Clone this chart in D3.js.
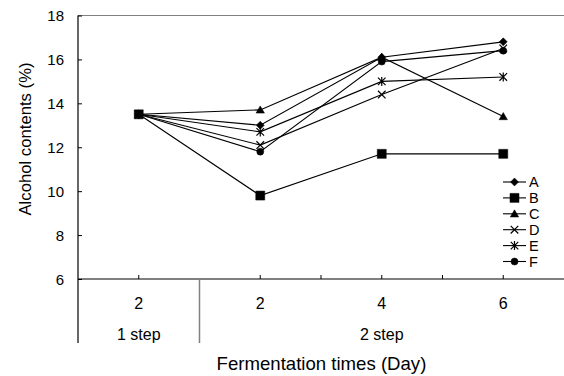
<!DOCTYPE html>
<html>
<head>
<meta charset="utf-8">
<script src="https://cdn.jsdelivr.net/npm/d3@7"></script>
<style>
  html, body { margin: 0; padding: 0; background: #fff; }
  svg { display: block; font-family: Arial, 'Liberation Sans', sans-serif; }
</style>
</head>
<body>
<div id="chart"></div>
<script>
// ─── Data ─────────────────────────────────────────────────────────────────────
const steps = ['1 step', '2 step']
const stepSpan = [1, 3]                 // number of day slots under each step
const days = ['2', '2', '4', '6']
const seriesNames = ['A', 'B', 'C', 'D', 'E', 'F']
const valuesA = [13.5, 13.0, 16.1, 16.8]
const valuesB = [13.5, 9.8, 11.7, 11.7]
const valuesC = [13.5, 13.7, 16.1, 13.4]
const valuesD = [13.5, 12.1, 14.4, 16.5]
const valuesE = [13.5, 12.7, 15.0, 15.2]
const valuesF = [13.5, 11.8, 15.9, 16.4]
const yTicks = [6, 8, 10, 12, 14, 16, 18]

const series = [valuesA, valuesB, valuesC, valuesD, valuesE, valuesF]
  .map((v, i) => ({ name: seriesNames[i], values: v }))

// ─── Layout ───────────────────────────────────────────────────────────────────
const W = 564, H = 376
const M = { left: 78, right: 0, top: 15.5, bottom: 97 }

const svg = d3.select('#chart').append('svg')
  .attr('width', W).attr('height', H)

const slots = days.map((_, i) => i)
const x = d3.scaleBand().domain(slots).range([M.left, W - M.right]).padding(0)
const cx = i => x(i) + x.bandwidth() / 2
const y = d3.scaleLinear().domain([6, 18]).range([H - M.bottom, M.top])

const y0 = y(6)

// top border
svg.append('line')
  .attr('x1', M.left).attr('x2', W).attr('y1', y(18)).attr('y2', y(18))
  .attr('stroke', '#808080').attr('stroke-width', 1.2)

// ─── Y axis ───────────────────────────────────────────────────────────────────
const yAxis = svg.append('g')
  .attr('transform', `translate(${M.left},0)`)
  .call(d3.axisRight(y).tickValues(yTicks).tickSize(4).tickFormat(d3.format('d')))
yAxis.select('.domain').remove()
yAxis.selectAll('.tick line').attr('stroke', '#000')
yAxis.selectAll('.tick text')
  .attr('x', -14).attr('text-anchor', 'end').attr('dy', '0.36em')
  .attr('font-size', 15).attr('fill', '#000')
  .attr('font-family', 'Arial, Liberation Sans, sans-serif')

svg.append('line')
  .attr('x1', M.left).attr('x2', M.left)
  .attr('y1', y(18)).attr('y2', y0 + 64)
  .attr('stroke', '#000').attr('stroke-width', 1.2)

svg.append('text')
  .attr('transform', 'translate(25,139) rotate(-90)')
  .attr('text-anchor', 'middle').attr('dy', '0.35em')
  .attr('font-size', 16.7).attr('fill', '#000')
  .text('Alcohol contents (%)')

// ─── X axis ───────────────────────────────────────────────────────────────────
svg.append('line')
  .attr('x1', M.left).attr('x2', W).attr('y1', y0).attr('y2', y0)
  .attr('stroke', '#000').attr('stroke-width', 1.2)

// inside ticks at slot centres and inner slot boundaries
const tickXs = slots.map(cx).concat(slots.slice(2).map(i => x(i)))
svg.append('g').selectAll('line').data(tickXs).join('line')
  .attr('x1', d => d).attr('x2', d => d)
  .attr('y1', y0).attr('y2', y0 - 4)
  .attr('stroke', '#000')

svg.append('g').selectAll('text').data(days).join('text')
  .attr('x', (d, i) => cx(i)).attr('y', 308.5)
  .attr('text-anchor', 'middle')
  .attr('font-size', 16).attr('fill', '#000')
  .text(d => d)

// step groups
let acc = 0
const stepInfo = steps.map((s, i) => {
  const start = acc
  acc += stepSpan[i]
  return { label: s, x0: x(start), x1: x(acc - 1) + x.bandwidth() }
})

svg.append('line')
  .attr('x1', stepInfo[1].x0).attr('x2', stepInfo[1].x0)
  .attr('y1', y0).attr('y2', y0 + 64)
  .attr('stroke', '#808080').attr('stroke-width', 1.5)

svg.append('g').selectAll('text').data(stepInfo).join('text')
  .attr('x', d => (d.x0 + d.x1) / 2).attr('y', 340)
  .attr('text-anchor', 'middle')
  .attr('font-size', 16).attr('fill', '#000')
  .text(d => d.label)

svg.append('text')
  .attr('x', 321.5).attr('y', 370)
  .attr('text-anchor', 'middle')
  .attr('font-size', 18.6).attr('fill', '#000')
  .text('Fermentation times (Day)')

// ─── Markers ──────────────────────────────────────────────────────────────────
const markerPath = {
  A: 'M0,-4L4,0L0,4L-4,0Z',
  B: 'M-4.5,-4.5H4.5V4.5H-4.5Z',
  C: 'M0,-4L4.2,3.2H-4.2Z',
  D: 'M-3.8,-3.8L3.8,3.8M-3.8,3.8L3.8,-3.8',
  E: 'M-3.8,-3.8L3.8,3.8M-3.8,3.8L3.8,-3.8M0,-4.5V4.5',
  F: 'M-3.5,0A3.5,3.5 0 1,0 3.5,0A3.5,3.5 0 1,0 -3.5,0Z',
}
const isStroke = n => n === 'D' || n === 'E'

function drawMarker(g, name) {
  g.append('path')
    .attr('d', markerPath[name])
    .attr('fill', isStroke(name) ? 'none' : '#000')
    .attr('stroke', '#000')
    .attr('stroke-width', isStroke(name) ? 1.2 : 0.5)
}

// ─── Lines ────────────────────────────────────────────────────────────────────
const line = d3.line().x((d, i) => cx(i)).y(d => y(d))

const sg = svg.append('g').selectAll('g').data(series).join('g')
sg.append('path')
  .attr('d', d => line(d.values))
  .attr('fill', 'none').attr('stroke', '#000').attr('stroke-width', 1.1)

sg.each(function(s) {
  const g = d3.select(this)
  s.values.forEach((v, i) => {
    const m = g.append('g').attr('transform', `translate(${cx(i)},${y(v)})`)
    drawMarker(m, s.name)
  })
})

// ─── Legend ───────────────────────────────────────────────────────────────────
const legY = d3.scalePoint().domain(seriesNames).range([182, 261.5])
const lg = svg.append('g').selectAll('g').data(seriesNames).join('g')
  .attr('transform', d => `translate(514.5,${legY(d)})`)
lg.append('line').attr('x1', -11.5).attr('x2', 11.5)
  .attr('stroke', '#000').attr('stroke-width', 1.1)
lg.each(function(d) { drawMarker(d3.select(this), d) })
lg.append('text').attr('x', 14.5).attr('dy', '0.36em')
  .attr('font-size', 14.5).attr('fill', '#000')
  .text(d => d)
</script>
</body>
</html>
